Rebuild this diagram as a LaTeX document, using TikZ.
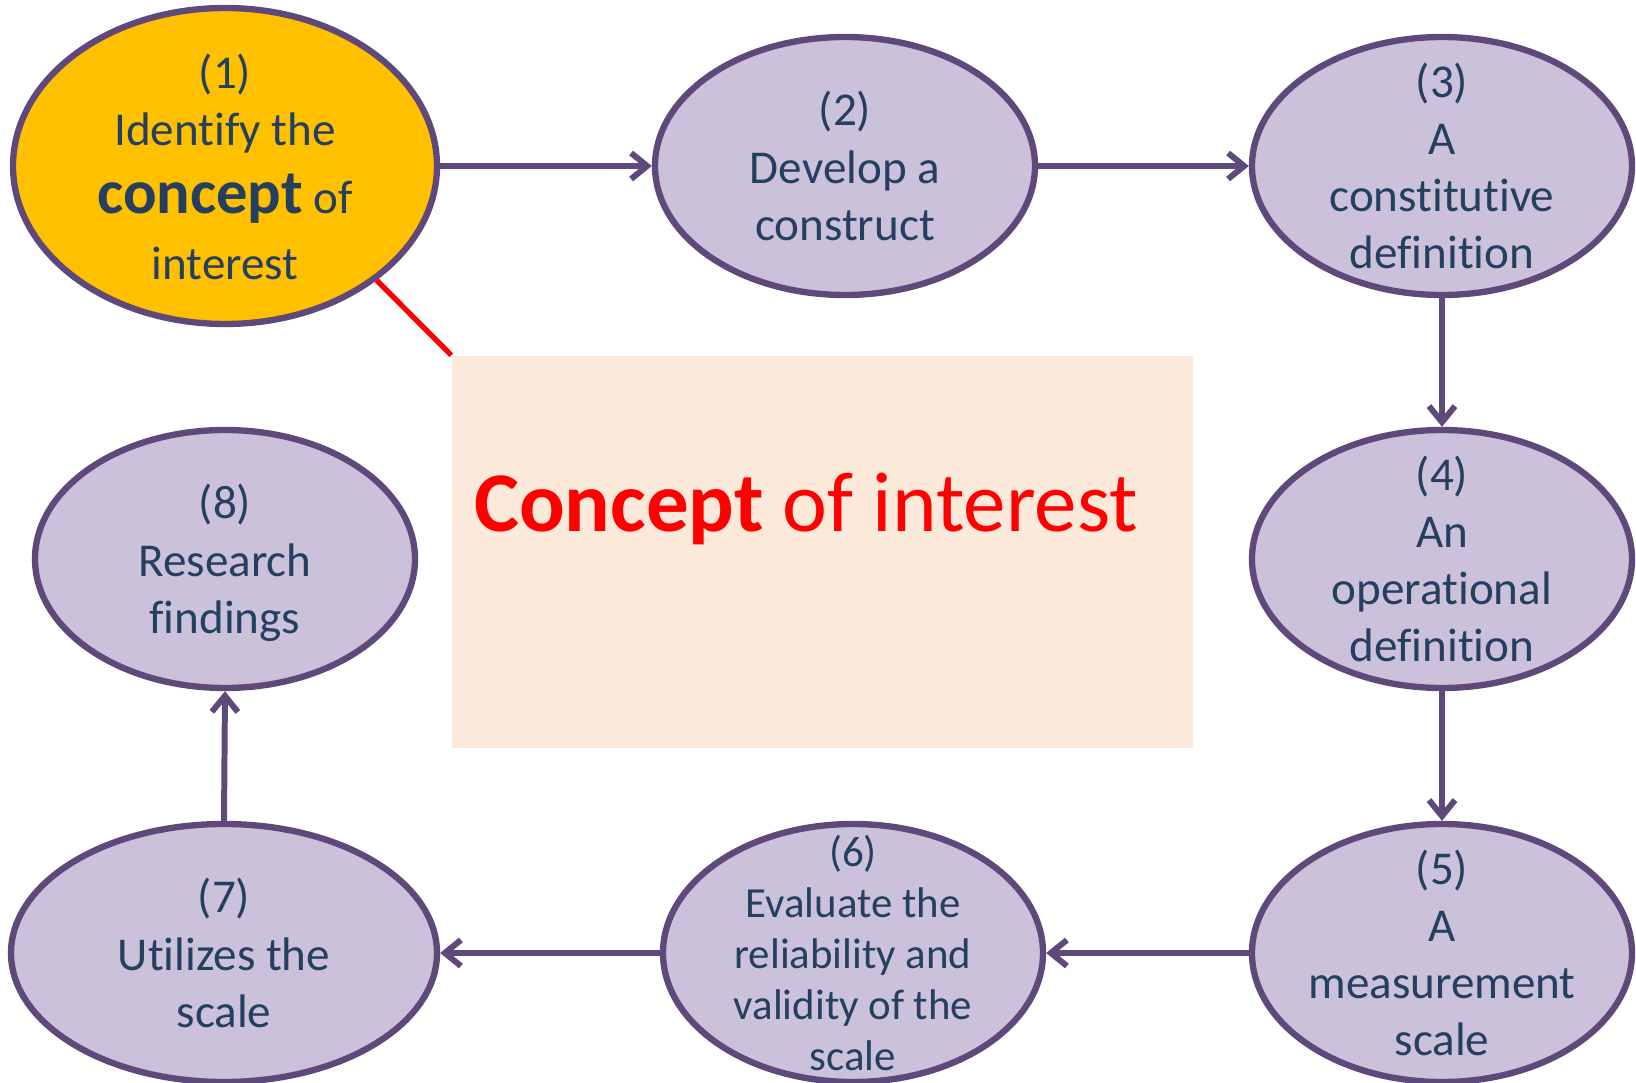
\documentclass[tikz,border=0pt]{standalone}
\usepackage{fontspec}
\setmainfont[RawFeature={-liga;-clig}]{Carlito}
\usepackage{tikz}
\definecolor{prune}{HTML}{5F497A}
\definecolor{lilas}{HTML}{CCC1DA}
\definecolor{encre}{HTML}{243F60}
\definecolor{jaune}{HTML}{FFC000}
\definecolor{peche}{HTML}{FDE9D9}
\definecolor{rouge}{HTML}{FF0000}
\usetikzlibrary{shapes,arrows.meta}
\tikzset{etape/.style={
    ellipse,
    draw=prune,
    fill=lilas,
    line width=1.8pt,
    inner sep=0,
    minimum width=3.8cm,
    minimum height=2.58cm}}
\tikzset{texte/.style={
    align=center,
    text=encre,
    inner sep=0,
    font=\fontsize{13.4}{16.3}\selectfont}}
\tikzset{fleche/.style={
    draw=prune,
    line width=1.7pt,
    -{Straight Barb[length=1.6mm,width=2.6mm]}}}

\begin{document}
\begin{tikzpicture}
  \useasboundingbox (0,0) rectangle (16.36,-10.83);

  \coordinate (S1) at (2.25,-1.66);
\coordinate (S2) at (8.45,-1.66);
\coordinate (S3) at (14.42,-1.66);
\coordinate (S4) at (14.42,-5.59);
\coordinate (S5) at (14.42,-9.53);
\coordinate (S6) at (8.53,-9.53);
\coordinate (S7) at (2.24,-9.53);
\coordinate (S8) at (2.25,-5.59);

\node[etape,
  fill=jaune,
  minimum width=4.24cm,
  minimum height=3.16cm] (e1) at (S1) {};
\node[etape] (e2) at (S2) {};
\node[etape] (e3) at (S3) {};
\node[etape] (e4) at (S4) {};
\node[etape] (e5) at (S5) {};
\node[etape] (e6) at (S6) {};
\node[etape,
  minimum width=4.26cm] (e7) at (S7) {};
\node[etape] (e8) at (S8) {};

\node[texte] (t1) at ([yshift=-0.01cm]e1) {(1)\\Identify the\\[3pt]{\fontsize{17.8}{20}\selectfont\bfseries concept} of\\[2.4pt]interest};
\node[texte] (t2) at (e2) {(2)\\Develop a\\construct};
\node[texte] (t3) at (e3) {(3)\\A\\constitutive\\definition};
\node[texte] (t4) at (e4) {(4)\\An\\operational\\definition};
\node[texte] (t5) at (e5) {(5)\\A\\measurement\\scale};
\node[texte,
  font=\fontsize{12.2}{14.5}\selectfont] (t6) at (e6) {(6)\\Evaluate the\\reliability and\\validity of the\\scale};
\node[texte] (t7) at (e7) {(7)\\Utilizes the\\scale};
\node[texte] (t8) at ([yshift=-0.04cm]e8) {(8)\\Research\\findings};

  \draw[fleche] (e1.east) -- (e2.west);
  \draw[fleche] (e2.east) -- (e3.west);
  \draw[fleche] (e3.south) -- (e4.north);
  \draw[fleche] (e4.south) -- (e5.north);
  \draw[fleche] (e5.west) -- (e6.east);
  \draw[fleche] (e6.west) -- (e7.east);
  \draw[fleche] (e7.north) -- (e8.south);

  \node[fill=peche,
    inner sep=0,
    minimum width=7.41cm,
    minimum height=3.92cm] (cadre) at (8.225,-5.52) {};

  \node[text=rouge,
    inner sep=0,
    font=\fontsize{24.2}{29}\selectfont] (titre) at (8.06,-5.09) {\textbf{Concept} of interest};

  \draw[rouge,
    line width=1.5pt] (e1.-37) -- (cadre.north west);
\end{tikzpicture}
\end{document}
